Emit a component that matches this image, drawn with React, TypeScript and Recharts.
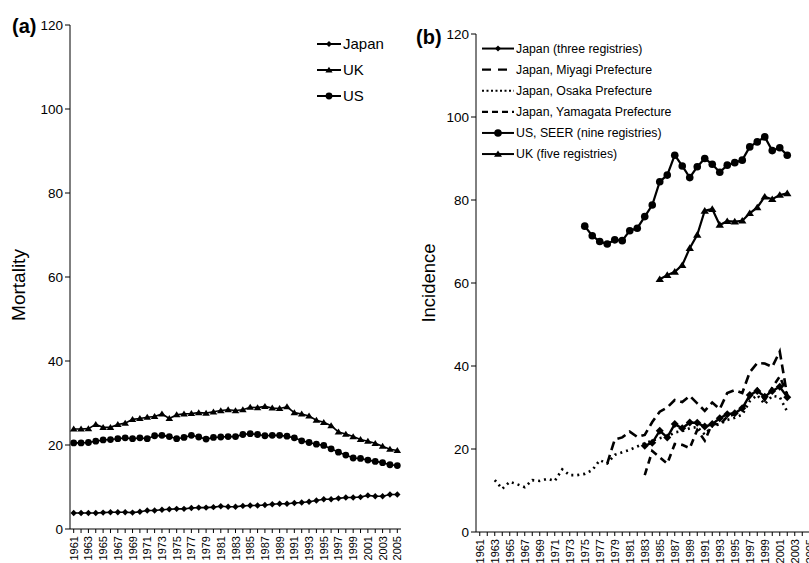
import React from 'react';
import { LineChart, Line, XAxis, YAxis } from 'recharts';

const YEARS = [
  1961, 1962, 1963, 1964, 1965, 1966, 1967, 1968, 1969, 1970,
  1971, 1972, 1973, 1974, 1975, 1976, 1977, 1978, 1979, 1980,
  1981, 1982, 1983, 1984, 1985, 1986, 1987, 1988, 1989, 1990,
  1991, 1992, 1993, 1994, 1995, 1996, 1997, 1998, 1999, 2000,
  2001, 2002, 2003, 2004, 2005,
];
const Y_TICKS = [0, 20, 40, 60, 80, 100, 120];

// (a) mortality
const MORT_JAPAN = [
  3.8, 3.8, 3.8, 3.8, 3.9, 4.0, 4.0, 4.0, 3.9, 4.1,
  4.4, 4.4, 4.6, 4.7, 4.8, 4.8, 5.0, 5.1, 5.1, 5.2,
  5.4, 5.3, 5.3, 5.5, 5.6, 5.6, 5.7, 5.9, 6.0, 6.0,
  6.2, 6.3, 6.5, 6.8, 7.1, 7.1, 7.3, 7.5, 7.5, 7.6,
  8.0, 7.8, 7.8, 8.2, 8.2,
];
const MORT_UK = [
  23.8, 23.8, 23.9, 24.9, 24.2, 24.2, 24.9, 25.2, 26.1, 26.3,
  26.6, 26.8, 27.4, 26.3, 27.2, 27.4, 27.5, 27.7, 27.6, 27.9,
  28.2, 28.4, 28.2, 28.4, 29.0, 28.9, 29.2, 28.8, 28.7, 29.1,
  27.7, 27.4, 26.9, 25.9, 25.4, 24.6, 23.1, 22.6, 22.0, 21.3,
  20.9, 20.4, 19.7, 19.0, 18.7,
];
const MORT_US = [
  20.5, 20.5, 20.6, 20.9, 21.2, 21.3, 21.5, 21.7, 21.5, 21.7,
  21.5, 22.2, 22.3, 22.0, 21.5, 21.8, 22.3, 21.9, 21.4, 21.8,
  21.9, 22.0, 22.0, 22.5, 22.7, 22.5, 22.2, 22.3, 22.3, 22.1,
  21.7, 21.0, 20.6, 20.2, 19.9, 19.1, 18.3, 17.6, 16.9, 16.8,
  16.4, 16.1, 15.8, 15.3, 15.1,
];

// (b) incidence
const INC_JAPAN3 = [
  null, null, null, null, null, null, null, null, null, null,
  null, null, null, null, null, null, null, null, null, null,
  null, null, 20.8, 21.5, 24.4, 22.8, 26.0, 25.0, 26.4, 26.3,
  25.4, 26.0, 27.4, 28.4, 28.6, 29.8, 33.0, 34.0, 32.6, 34.0,
  35.0, 32.5, null, null, null,
];
const INC_MIYAGI = [
  null, null, null, null, null, null, null, null, null, null,
  null, null, null, null, null, null, null, 16.5, 22.3, 22.8,
  24.2, 22.9, 23.4, 26.5, 29.0, 30.0, 31.8, 31.3, 32.8, 31.0,
  29.2, 31.2, 29.6, 33.5, 34.2, 33.5, 38.5, 40.7, 40.6, 39.8,
  43.5, 32.8, null, null, null,
];
const INC_OSAKA = [
  null, null, 12.5, 10.4, 12.1, 11.5, 10.8, 12.5, 12.3, 12.8,
  12.3, 15.1, 13.7, 13.7, 14.0, 14.9, 17.3, 16.5, 18.6, 19.2,
  19.8, 20.6, 21.4, 22.0, 22.6, 23.0, 24.0, 24.3, 25.0, 25.3,
  23.5, 25.5, 26.0, 27.0, 27.5, 28.3, 31.5, 33.0, 30.8, 32.8,
  32.5, 29.0, null, null, null,
];
const INC_YAMAGATA = [
  null, null, null, null, null, null, null, null, null, null,
  null, null, null, null, null, null, null, null, null, null,
  null, null, 13.7, 19.5, 18.0, 16.5, 21.2, 21.0, 20.2, 24.6,
  22.0, 26.2, 25.8, 27.8, 28.4, 29.5, 32.5, 34.5, 31.8, 34.8,
  37.5, 33.0, null, null, null,
];
const INC_US = [
  null, null, null, null, null, null, null, null, null, null,
  null, null, null, null, 73.7, 71.4, 70.0, 69.4, 70.4, 70.2,
  72.6, 73.2, 76.0, 78.8, 84.4, 86.0, 90.8, 88.2, 85.4, 88.0,
  90.0, 88.6, 86.7, 88.4, 89.0, 89.6, 92.8, 94.0, 95.2, 91.9,
  92.6, 90.8, null, null, null,
];
const INC_UK = [
  null, null, null, null, null, null, null, null, null, null,
  null, null, null, null, null, null, null, null, null, null,
  null, null, null, null, 60.9, 61.9, 62.7, 64.3, 68.4, 71.6,
  77.4, 77.8, 74.0, 74.9, 74.8, 75.0, 76.8, 78.2, 80.8, 80.2,
  81.2, 81.6, null, null, null,
];

const dataA = YEARS.map((year, i) => ({
  year,
  japan: MORT_JAPAN[i],
  uk: MORT_UK[i],
  us: MORT_US[i],
}));

const dataB = YEARS.map((year, i) => ({
  year,
  japan3: INC_JAPAN3[i],
  miyagi: INC_MIYAGI[i],
  osaka: INC_OSAKA[i],
  yamagata: INC_YAMAGATA[i],
  us: INC_US[i],
  uk: INC_UK[i],
}));

const FONT = '"Liberation Sans", Arial, sans-serif';

type Shape = 'diamond' | 'triangle' | 'circle';

function marker(shape: Shape, s: number, cx: number, cy: number, key?: string | number) {
  if (shape === 'diamond') {
    return <path key={key} d={`M${cx},${cy - s}L${cx + s},${cy}L${cx},${cy + s}L${cx - s},${cy}Z`} fill="#000" />;
  }
  if (shape === 'triangle') {
    const h = s * 0.9;
    return <path key={key} d={`M${cx},${cy - h}L${cx + s},${cy + h * 0.75}L${cx - s},${cy + h * 0.75}Z`} fill="#000" />;
  }
  return <circle key={key} cx={cx} cy={cy} r={s} fill="#000" />;
}

const dot = (shape: Shape, s: number) => (props: any) => {
  const { cx, cy, value, index } = props;
  if (cx == null || cy == null || value == null || isNaN(cy)) return <g key={index} />;
  return marker(shape, s, cx, cy, index);
};

// labels only on odd years, written bottom-to-top
const YearTick = (props: any) => {
  const { x, y, payload } = props;
  if (payload.value % 2 === 0) return <g />;
  return (
    <text
      x={x}
      y={y}
      transform={`rotate(-90 ${x} ${y})`}
      textAnchor="end"
      dx={-1}
      dy={4}
      fontSize={11}
      fontFamily={FONT}
      fill="#000"
    >
      {payload.value}
    </text>
  );
};

type LegendItem = { label: string; shape?: Shape; size?: number; dash?: string; width?: number };

function LegendBox({ items, left, top, rowH, lineW, fontSize }: { items: LegendItem[]; left: number; top: number; rowH: number; lineW: number; fontSize: number }) {
  return (
    <svg style={{ position: 'absolute', left, top }} width={300} height={rowH * items.length + 4}>
      {items.map((it, i) => {
        const y = rowH * i + rowH / 2;
        return (
          <g key={it.label}>
            <line x1={0} x2={lineW} y1={y} y2={y} stroke="#000" strokeWidth={it.width ?? 2} strokeDasharray={it.dash} />
            {it.shape ? marker(it.shape, it.size ?? 3, lineW / 2, y) : null}
            <text x={lineW + 2} y={y} dy={fontSize * 0.36} fontSize={fontSize} fontFamily={FONT} fill="#000">
              {it.label}
            </text>
          </g>
        );
      })}
    </svg>
  );
}

const axisStyle = { stroke: '#000', strokeWidth: 1 };
const yTick = { fontSize: 13.5, fill: '#000', fontFamily: FONT };

export default function App() {
  return (
    <div style={{ position: 'absolute', left: 0, top: 0, width: 809, height: 563, overflow: 'hidden', background: '#fff', fontFamily: FONT }}>
      {/* panel (a) */}
      <div style={{ position: 'absolute', left: 0, top: 0 }}>
        <LineChart width={420} height={563} data={dataA} margin={{ top: 25, right: 19, bottom: 0, left: 0 }}>
          <XAxis
            dataKey="year"
            interval={0}
            height={34}
            tick={<YearTick />}
            tickSize={4}
            axisLine={axisStyle}
            tickLine={axisStyle}
            padding={{ left: 3.7, right: 3.7 }}
          />
          <YAxis
            width={70}
            domain={[0, 120]}
            ticks={Y_TICKS}
            tick={yTick}
            tickSize={5}
            axisLine={axisStyle}
            tickLine={axisStyle}
          />
          <Line dataKey="uk" stroke="#000" strokeWidth={1.6} dot={dot('triangle', 3.8)} isAnimationActive={false} />
          <Line dataKey="us" stroke="#000" strokeWidth={1.6} dot={dot('circle', 3.4)} isAnimationActive={false} />
          <Line dataKey="japan" stroke="#000" strokeWidth={1.6} dot={dot('diamond', 3.2)} isAnimationActive={false} />
        </LineChart>
      </div>

      {/* panel (b) */}
      <div style={{ position: 'absolute', left: 400, top: 0 }}>
        <LineChart width={420} height={563} data={dataB} margin={{ top: 34, right: 6.5, bottom: 0, left: 0 }}>
          <XAxis
            dataKey="year"
            interval={0}
            height={31}
            tick={<YearTick />}
            tickSize={4}
            axisLine={axisStyle}
            tickLine={axisStyle}
            padding={{ left: 3.75, right: 3.75 }}
          />
          <YAxis
            width={76}
            domain={[0, 120]}
            ticks={Y_TICKS}
            tick={yTick}
            tickSize={5}
            axisLine={axisStyle}
            tickLine={axisStyle}
          />
          <Line dataKey="osaka" stroke="#000" strokeWidth={2.6} strokeDasharray="2 4" dot={false} isAnimationActive={false} />
          <Line dataKey="miyagi" stroke="#000" strokeWidth={2.6} strokeDasharray="9 5" dot={false} isAnimationActive={false} />
          <Line dataKey="yamagata" stroke="#000" strokeWidth={2.6} strokeDasharray="7 5" dot={false} isAnimationActive={false} />
          <Line dataKey="japan3" stroke="#000" strokeWidth={2.4} dot={dot('diamond', 4)} isAnimationActive={false} />
          <Line dataKey="us" stroke="#000" strokeWidth={2.2} dot={dot('circle', 3.8)} isAnimationActive={false} />
          <Line dataKey="uk" stroke="#000" strokeWidth={2.2} dot={dot('triangle', 4.2)} isAnimationActive={false} />
        </LineChart>
      </div>

      {/* panel labels and axis titles */}
      <div style={{ position: 'absolute', left: 12, top: 15, fontSize: 20, fontWeight: 'bold', lineHeight: '23px' }}>(a)</div>
      <div style={{ position: 'absolute', left: 416, top: 26, fontSize: 20, fontWeight: 'bold', lineHeight: '23px' }}>(b)</div>
      <div style={{ position: 'absolute', left: 19, top: 285, fontSize: 19, transform: 'translate(-50%, -50%) rotate(-90deg)', whiteSpace: 'nowrap' }}>Mortality</div>
      <div style={{ position: 'absolute', left: 429, top: 283, fontSize: 18.5, transform: 'translate(-50%, -50%) rotate(-90deg)', whiteSpace: 'nowrap' }}>Incidence</div>

      <LegendBox
        left={317}
        top={31}
        rowH={26}
        lineW={24}
        fontSize={15}
        items={[
          { label: 'Japan', shape: 'diamond', size: 3 },
          { label: 'UK', shape: 'triangle', size: 3.6 },
          { label: 'US', shape: 'circle', size: 3.4 },
        ]}
      />
      <LegendBox
        left={482}
        top={37.5}
        rowH={21.1}
        lineW={32}
        fontSize={12.3}
        items={[
          { label: 'Japan (three registries)', shape: 'diamond', size: 3 },
          { label: 'Japan, Miyagi Prefecture', dash: '9 7', width: 2.4 },
          { label: 'Japan, Osaka Prefecture', dash: '2 2.5', width: 2.2 },
          { label: 'Japan, Yamagata Prefecture', dash: '6 4', width: 2.4 },
          { label: 'US, SEER (nine registries)', shape: 'circle', size: 3.8 },
          { label: 'UK (five registries)', shape: 'triangle', size: 4 },
        ]}
      />
    </div>
  );
}
